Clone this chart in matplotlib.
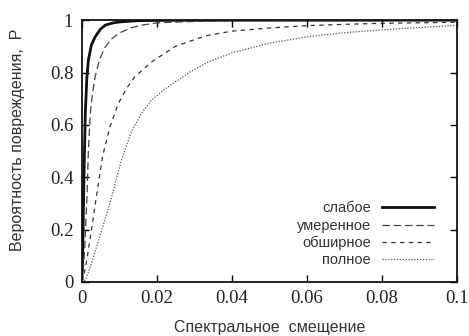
import matplotlib
matplotlib.use("Agg")
import matplotlib.pyplot as plt

# values
x_slight = [0, 0.0002, 0.0004, 0.0006, 0.0008, 0.001, 0.0014, 0.0018, 0.0026, 0.0036, 0.005, 0.0063, 0.0085, 0.0107, 0.015, 0.02, 0.04, 0.1]
p_slight = [0, 0.05, 0.2, 0.38, 0.52, 0.65, 0.78, 0.847, 0.905, 0.936, 0.965, 0.981, 0.99, 0.994, 0.998, 0.999, 1.0, 1.0]

x_moder = [0, 0.0003, 0.0008, 0.0014, 0.0018, 0.0023, 0.0029, 0.0036, 0.0048, 0.0063, 0.008, 0.0098, 0.013, 0.016, 0.0204, 0.03, 0.04, 0.1]
p_moder = [0, 0.01, 0.122, 0.313, 0.5, 0.64, 0.72, 0.784, 0.85, 0.898, 0.928, 0.949, 0.97, 0.981, 0.99, 0.995, 0.998, 1.0]

x_ext = [0, 0.0005, 0.0014, 0.0025, 0.0038, 0.0056, 0.0075, 0.0098, 0.012, 0.0142, 0.0187, 0.025, 0.033, 0.04, 0.05, 0.06, 0.07, 0.08, 0.09, 0.1]
p_ext = [0, 0.02, 0.084, 0.186, 0.313, 0.48, 0.59, 0.682, 0.74, 0.784, 0.841, 0.9, 0.94, 0.958, 0.97, 0.979, 0.984, 0.988, 0.99, 0.992]

x_comp = [0, 0.0011, 0.0029, 0.0051, 0.0078, 0.0105, 0.0133, 0.016, 0.0187, 0.022, 0.0257, 0.029, 0.0337, 0.04, 0.05, 0.06, 0.07, 0.08, 0.09, 0.1]
p_comp = [0, 0.008, 0.084, 0.186, 0.313, 0.46, 0.575, 0.645, 0.695, 0.735, 0.771, 0.803, 0.84, 0.875, 0.912, 0.936, 0.952, 0.963, 0.972, 0.98]

labels = ["слабое", "умеренное", "обширное", "полное"]
x_ticks = [0, 0.02, 0.04, 0.06, 0.08, 0.1]
x_ticklabels = ["0", "0.02", "0.04", "0.06", "0.08", "0.1"]
y_ticks = [0, 0.2, 0.4, 0.6, 0.8, 1]
y_ticklabels = ["0", "0.2", "0.4", "0.6", "0.8", "1"]

plt.rcParams["font.family"] = ["Liberation Serif", "DejaVu Serif"]

fig = plt.figure(figsize=(4.69, 3.36), dpi=100)
ax = fig.add_axes([0.174, 0.161, 0.800, 0.779])

ax.plot(x_slight, p_slight, color="#111111", lw=2.0, ls="-", label=labels[0])
ax.plot(x_moder, p_moder, color="#444444", lw=0.9, ls=(0, (6, 3)), label=labels[1])
ax.plot(x_ext, p_ext, color="#333333", lw=0.9, ls=(0, (3.5, 3.5)), label=labels[2])
ax.plot(x_comp, p_comp, color="#555555", lw=0.9, ls=(0, (1, 1.3)), label=labels[3])

ax.set_xlim(0, 0.1)
ax.set_ylim(0, 1)
ax.set_xticks(x_ticks)
ax.set_xticklabels(x_ticklabels)
ax.set_yticks(y_ticks)
ax.set_yticklabels(y_ticklabels)
ax.tick_params(direction="in", top=True, right=True, length=5, width=1.0,
               pad=6, labelsize=13.5, labelcolor="#222222")

for s in ax.spines.values():
    s.set_linewidth(1.3)
    s.set_color("#111111")

ax.set_xlabel("Спектральное  смещение", family="Liberation Sans", fontsize=11.5,
              labelpad=9, color="#333333")
ax.set_ylabel("Вероятность повреждения,  P", family="Liberation Sans", fontsize=11.5,
              color="#333333")
ax.yaxis.set_label_coords(-0.151, 0.542)

leg = ax.legend(loc="lower right", bbox_to_anchor=(0.975, 0.005), frameon=False,
                markerfirst=False, handlelength=3.6, handletextpad=0.75,
                labelspacing=0.22, prop={"family": "Liberation Sans", "size": 10.5})
for t in leg.get_texts():
    t.set_ha("right")
    t.set_color("#333333")

fig.savefig("out.png", dpi=100)
